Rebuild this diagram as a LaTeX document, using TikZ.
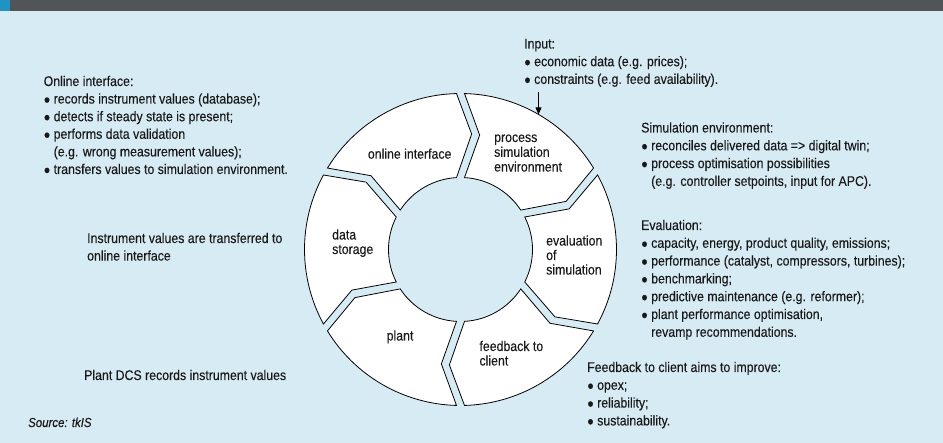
\documentclass[tikz,border=0pt]{standalone}
\usepackage{fontspec}
\setmainfont{Liberation Sans}[FakeStretch=0.88,FakeBold=0.2]
\usetikzlibrary{arrows.meta}
\definecolor{bgblue}{RGB}{215,235,244}
\definecolor{hdrgray}{RGB}{81,85,87}
\definecolor{hdrteal}{RGB}{31,147,193}
\definecolor{inkc}{RGB}{25,25,25}
\newcommand\bul{\makebox[10pt][l]{\fontsize{12.5}{12.5}\selectfont ●}}
\newcommand\ind{\hspace*{10pt}}
\newcommand\tblock[5]{\foreach \tline [count=\k from 0] in {#5} {\node[txt] (#1\k) at (#2, 443-#3-\k*#4) {\tline};}}
\begin{document}
\begin{tikzpicture}[x=1pt,y=1pt,
  txt/.style={anchor=base west, inner sep=0pt, font=\fontsize{14}{17}\selectfont, text=inkc},
  segshape/.style={fill=white, draw=black, line width=0.8pt, line join=miter},
  arr/.style={-{Triangle[length=7pt,width=6pt]}, line width=0.8pt, draw=black}]
\fill[bgblue] (0,0) rectangle (943,443);
\useasboundingbox (0,0) rectangle (943,443);
\fill[hdrgray] (0,432) rectangle (943,443);
\fill[hdrteal] (0,432) rectangle (10,443);

% ring of six arrow segments
\begin{scope}[shift={(460.5,193.5)}]
\def\Ro{156}\def\ri{72}\def\rk{116}\def\dk{7.5}\def\go{1.47}\def\gk{2.0}\def\gi{3.18}
\foreach \bA in {90,30,-30,-90,-150,150} {
  \pgfmathsetmacro\bB{\bA+60}
  \filldraw[segshape] (\bB-\go:\Ro pt) arc[start angle=\bB-\go, end angle=\bA+\go, radius=\Ro pt]
    -- (\bA-\dk+\gk:\rk pt) -- (\bA+\gi:\ri pt)
    arc[start angle=\bA+\gi, end angle=\bB-\gi, radius=\ri pt]
    -- (\bB-\dk-\gk:\rk pt) -- cycle;
}
\coordinate (arrtip) at (60:\Ro pt);
\end{scope}
\coordinate (arrtail) at ([yshift=22pt]arrtip);
\draw[arr] (arrtail) -- (arrtip);

% segment labels
\tblock{lon}{367.7}{158.7}{14.6}{online interface}
\tblock{lps}{494}{142}{14.8}{process,simulation,environment}
\tblock{lev}{546}{245.5}{14.5}{evaluation,of,simulation}
\tblock{lds}{332}{239.5}{14.5}{data,storage}
\tblock{lpl}{386.5}{340.5}{14.5}{plant}
\tblock{lfb}{479.3}{351}{14.5}{feedback to,client}

% text blocks
\tblock{oi}{43.5}{86}{17.6}{Online interface:,
  \bul records instrument values (database);,
  \bul detects if steady state is present;,
  \bul performs data validation,
  \ind (e.g. wrong measurement values);,
  \bul transfers values to simulation environment.}
\tblock{iv}{87}{243}{17.6}{Instrument values are transferred to,online interface}
\tblock{pd}{84}{380}{17.6}{Plant DCS records instrument values}
\node[txt, font=\fontsize{13}{15}\selectfont\itshape] (src) at (28, 443-427) {Source: tkIS};
\tblock{in}{524}{48.5}{17.7}{Input:,
  {\bul economic data (e.g. prices);},
  {\bul constraints (e.g. feed availability).}}
\tblock{se}{641}{132.5}{17.8}{Simulation environment:,
  \bul reconciles delivered data => digital twin;,
  \bul process optimisation possibilities,
  {\ind (e.g. controller setpoints, input for APC).}}
\tblock{ev}{641}{230}{17.8}{Evaluation:,
  {\bul capacity, energy, product quality, emissions;},
  {\bul performance (catalyst, compressors, turbines);},
  \bul benchmarking;,
  {\bul predictive maintenance (e.g. reformer);},
  {\bul plant performance optimisation,},
  \ind revamp recommendations.}
\tblock{fb}{587}{372}{17.8}{Feedback to client aims to improve:,
  \bul opex;,
  \bul reliability;,
  \bul sustainability.}
\end{tikzpicture}
\end{document}
